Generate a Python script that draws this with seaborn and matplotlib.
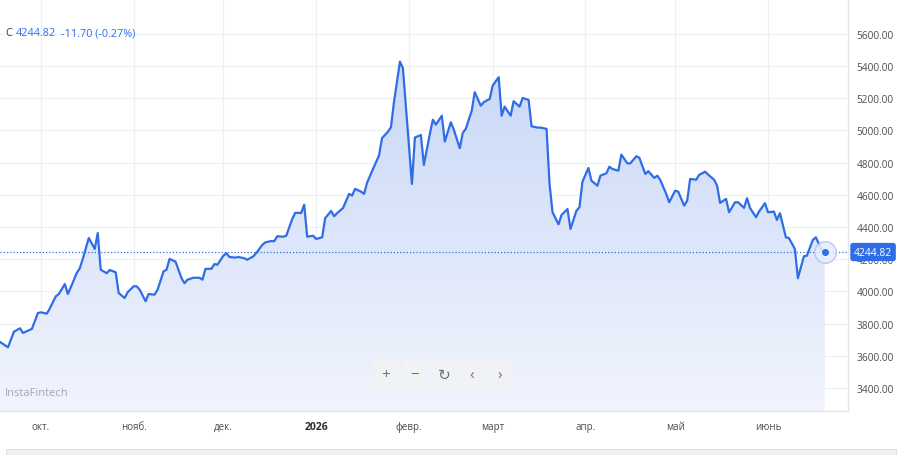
import numpy as np
import pandas as pd
import matplotlib
matplotlib.use("Agg")
import matplotlib.pyplot as plt
import matplotlib.transforms as mtransforms
import matplotlib.dates as mdates
from matplotlib.colors import LinearSegmentedColormap
from matplotlib.patches import FancyBboxPatch, Rectangle
import seaborn as sns

# --- data ---
dates = [
    "2025-09-17", "2025-09-20", "2025-09-22", "2025-09-24", "2025-09-25", "2025-09-28", "2025-09-30",
    "2025-10-01", "2025-10-03", "2025-10-04", "2025-10-06", "2025-10-07", "2025-10-09", "2025-10-10",
    "2025-10-11", "2025-10-13", "2025-10-14", "2025-10-15", "2025-10-17", "2025-10-19", "2025-10-20",
    "2025-10-21", "2025-10-23", "2025-10-24", "2025-10-26", "2025-10-27", "2025-10-29", "2025-10-30",
    "2025-11-01", "2025-11-02", "2025-11-03", "2025-11-05", "2025-11-06", "2025-11-08", "2025-11-09",
    "2025-11-11", "2025-11-12", "2025-11-13", "2025-11-15", "2025-11-17", "2025-11-18", "2025-11-19",
    "2025-11-21", "2025-11-23", "2025-11-24", "2025-11-25", "2025-11-27", "2025-11-28", "2025-11-29",
    "2025-12-01", "2025-12-02", "2025-12-03", "2025-12-05", "2025-12-06", "2025-12-08", "2025-12-09",
    "2025-12-11", "2025-12-12", "2025-12-14", "2025-12-15", "2025-12-17", "2025-12-18", "2025-12-19",
    "2025-12-21", "2025-12-22", "2025-12-24", "2025-12-25", "2025-12-27", "2025-12-28", "2025-12-29",
    "2025-12-31",
    "2026-01-01", "2026-01-03", "2026-01-04", "2026-01-06", "2026-01-07", "2026-01-08", "2026-01-10",
    "2026-01-12", "2026-01-13", "2026-01-14", "2026-01-16", "2026-01-17", "2026-01-18", "2026-01-20",
    "2026-01-22", "2026-01-23", "2026-01-25", "2026-01-26", "2026-01-27", "2026-01-29", "2026-01-30",
    "2026-02-01", "2026-02-02", "2026-02-03", "2026-02-05", "2026-02-06", "2026-02-08", "2026-02-09",
    "2026-02-10", "2026-02-12", "2026-02-13", "2026-02-15", "2026-02-16", "2026-02-18", "2026-02-19",
    "2026-02-20", "2026-02-22", "2026-02-23", "2026-02-25", "2026-02-26", "2026-02-28",
    "2026-03-01", "2026-03-03", "2026-03-04", "2026-03-05", "2026-03-07", "2026-03-08", "2026-03-10",
    "2026-03-11", "2026-03-13", "2026-03-14", "2026-03-16", "2026-03-17", "2026-03-19", "2026-03-20",
    "2026-03-21", "2026-03-23", "2026-03-24", "2026-03-26", "2026-03-27", "2026-03-29", "2026-03-30",
    "2026-03-31",
    "2026-04-02", "2026-04-03", "2026-04-05", "2026-04-06", "2026-04-08", "2026-04-09", "2026-04-10",
    "2026-04-12", "2026-04-13", "2026-04-15", "2026-04-16", "2026-04-18", "2026-04-19", "2026-04-21",
    "2026-04-22", "2026-04-24", "2026-04-25", "2026-04-26", "2026-04-28", "2026-04-29",
    "2026-05-01", "2026-05-02", "2026-05-04", "2026-05-05", "2026-05-06", "2026-05-08", "2026-05-09",
    "2026-05-11", "2026-05-12", "2026-05-14", "2026-05-15", "2026-05-16", "2026-05-18", "2026-05-19",
    "2026-05-21", "2026-05-22", "2026-05-24", "2026-05-25", "2026-05-26", "2026-05-28", "2026-05-29",
    "2026-05-31",
    "2026-06-01", "2026-06-03", "2026-06-04", "2026-06-05", "2026-06-07", "2026-06-08", "2026-06-10",
    "2026-06-11", "2026-06-13", "2026-06-14", "2026-06-16", "2026-06-17", "2026-06-19", "2026-06-20",
]

closes = [
    3690, 3653, 3750, 3771, 3742, 3767, 3866,
    3870, 3862, 3895, 3970, 3984, 4046, 3984,
    4026, 4115, 4144, 4202, 4332, 4264, 4363,
    4135, 4113, 4133, 4119, 3990, 3959, 3995,
    4032, 4032, 4011, 3939, 3984, 3980, 4011,
    4125, 4135, 4202, 4185, 4082, 4051, 4073,
    4085, 4085, 4073, 4140, 4141, 4170, 4166,
    4222, 4237, 4214, 4210, 4214, 4206, 4197,
    4218, 4239, 4289, 4305, 4313, 4312, 4343,
    4340, 4346, 4450, 4488, 4488, 4539, 4340,
    4346,
    4326, 4336, 4455, 4500, 4467, 4486, 4519,
    4606, 4595, 4637, 4620, 4606, 4674, 4761,
    4844, 4952, 4993, 5020, 5176, 5428, 5387,
    4906, 4668, 4956, 4972, 4786, 4979, 5067,
    5036, 5092, 4931, 5051, 5005, 4890, 4985,
    5010, 5123, 5238, 5154, 5176, 5196,
    5279, 5331, 5092, 5148, 5092, 5182, 5148,
    5202, 5190, 5026, 5018, 5018, 5010, 4668,
    4492, 4417, 4475, 4512, 4388, 4502, 4523,
    4682,
    4767, 4688, 4657, 4719, 4734, 4775, 4761,
    4750, 4850, 4796, 4796, 4840, 4831, 4730,
    4747, 4705, 4719, 4693, 4606, 4554,
    4626, 4620, 4533, 4564, 4699, 4694, 4724,
    4744, 4726, 4694, 4657, 4550, 4575, 4492,
    4554, 4554, 4519, 4579, 4519, 4461, 4496,
    4548,
    4492, 4496, 4444, 4486, 4336, 4332, 4264,
    4082, 4218, 4222, 4320, 4336, 4256.52, 4244.82,
]

month_starts = ["2025-10-01", "2025-11-01", "2025-12-01", "2026-01-01", "2026-02-01",
                "2026-03-01", "2026-04-01", "2026-05-01", "2026-06-01"]
month_labels = ["окт.", "нояб.", "дек.", "2026", "февр.", "март", "апр.", "май", "июнь"]
y_ticks = [3400, 3600, 3800, 4000, 4200, 4400, 4600, 4800, 5000, 5200, 5400, 5600]
last_close = 4244.82
change = -11.70
change_pct = -0.27

BLUE = "#2f6de6"
GRID = "#eef0f4"

df = pd.DataFrame({"date": pd.to_datetime(dates), "close": closes})

sns.set_theme(style="white")
plt.rcParams["font.family"] = ["Open Sans", "DejaVu Sans"]

fig = plt.figure(figsize=(9, 4.56), dpi=100)
ax = fig.add_axes([0, 44 / 456, 848 / 900, 412 / 456])

x_lo = pd.Timestamp("2025-09-17 08:00")
x_hi = pd.Timestamp("2026-06-27 18:00")
y_lo, y_hi = 3257, 5817

# line
sns.lineplot(data=df, x="date", y="close", ax=ax, color=BLUE, linewidth=1.6, zorder=4)

# gradient area under the line
poly = ax.fill_between(df["date"], df["close"], y_lo, facecolor="none", edgecolor="none")
cmap = LinearSegmentedColormap.from_list("area", ["#f1f4fd", "#c9d8f7"])
grad = np.linspace(0, 1, 256).reshape(-1, 1)
im = ax.imshow(grad, cmap=cmap, aspect="auto", origin="lower", zorder=1,
               extent=[mdates.date2num(x_lo), mdates.date2num(x_hi), y_lo, max(closes)])
im.set_clip_path(poly.get_paths()[0], transform=ax.transData)

# dotted current-price line and end marker
ax.axhline(last_close, color=BLUE, linestyle=(0, (1, 1.6)), linewidth=0.9, zorder=3)
ax.scatter([df["date"].iloc[-1]], [last_close], s=240, facecolor="#e6edfc", edgecolor="#a8c2f3",
           linewidth=1.0, alpha=0.85, zorder=5)
ax.scatter([df["date"].iloc[-1]], [last_close], s=16, color=BLUE, zorder=6)

ax.set_xlim(x_lo, x_hi)
ax.set_ylim(y_lo, y_hi)
ax.set_xlabel("")
ax.set_ylabel("")

# grid / ticks
ax.set_yticks(y_ticks)
ax.set_yticklabels([f"{v:.2f}" for v in y_ticks])
ax.set_xticks(pd.to_datetime(month_starts))
ax.set_xticklabels(month_labels)
ax.grid(True, color=GRID, linewidth=0.9)
ax.set_axisbelow(True)
ax.yaxis.tick_right()
ax.tick_params(axis="y", length=0, pad=6, labelsize=7.3, labelcolor="#4a4d52")
ax.tick_params(axis="x", length=0, pad=7, labelsize=7, labelcolor="#4a4d52")
for lab in ax.get_xticklabels():
    if lab.get_text() == "2026":
        lab.set_fontweight("bold")
        lab.set_color("#2a2d31")
        lab.set_fontsize(7.5)

for side in ["top", "left"]:
    ax.spines[side].set_visible(False)
for side in ["bottom", "right"]:
    ax.spines[side].set_color("#e2e5ea")
    ax.spines[side].set_linewidth(0.9)

# price tag on the right axis (covers the 4200 label, as in the source)
blend = mtransforms.blended_transform_factory(ax.transAxes, ax.transData)
ax.text(1.007, last_close, f"{last_close:.2f}", transform=blend, ha="left", va="center",
        color="white", fontsize=7.5, clip_on=False, zorder=10,
        bbox=dict(boxstyle="round,pad=0.35,rounding_size=0.25", fc=BLUE, ec="none"))

# header
hy = 1 - 34 / 456
fig.text(5 / 900, hy, "C", color="#3a3d42", fontsize=8, va="center")
fig.text(16 / 900, hy, f"{last_close:.2f}", color=BLUE, fontsize=7.8, va="center")
fig.text(61 / 900, hy, f"{change:.2f} ({change_pct:.2f}%)", color=BLUE, fontsize=7.8, va="center")

# watermark
fig.text(5 / 900, 1 - 394 / 456, "InstaFintech", color="#a3a7ae", fontsize=8, va="center")

# navigation buttons
for cx, sym in zip([386, 415, 444, 472, 500], ["+", "−", "↻", "‹", "›"]):
    fig.add_artist(FancyBboxPatch(((cx - 13) / 100, (456 - 392) / 100), 0.26, 0.32,
                                  boxstyle="round,pad=0,rounding_size=0.05",
                                  fc="#f1f2f4", ec="none", transform=fig.dpi_scale_trans))
    fig.text(cx / 900, 1 - 376 / 456, sym, color="#6b6f76", fontsize=11,
             ha="center", va="center")

# bottom scrollbar strip
fig.add_artist(Rectangle((6 / 900, -0.01), 890 / 900, 6 / 456 + 0.01, transform=fig.transFigure,
                         fc="#eef0f2", ec="#dcdfe3", lw=0.8))

fig.savefig("out.png", dpi=100)
